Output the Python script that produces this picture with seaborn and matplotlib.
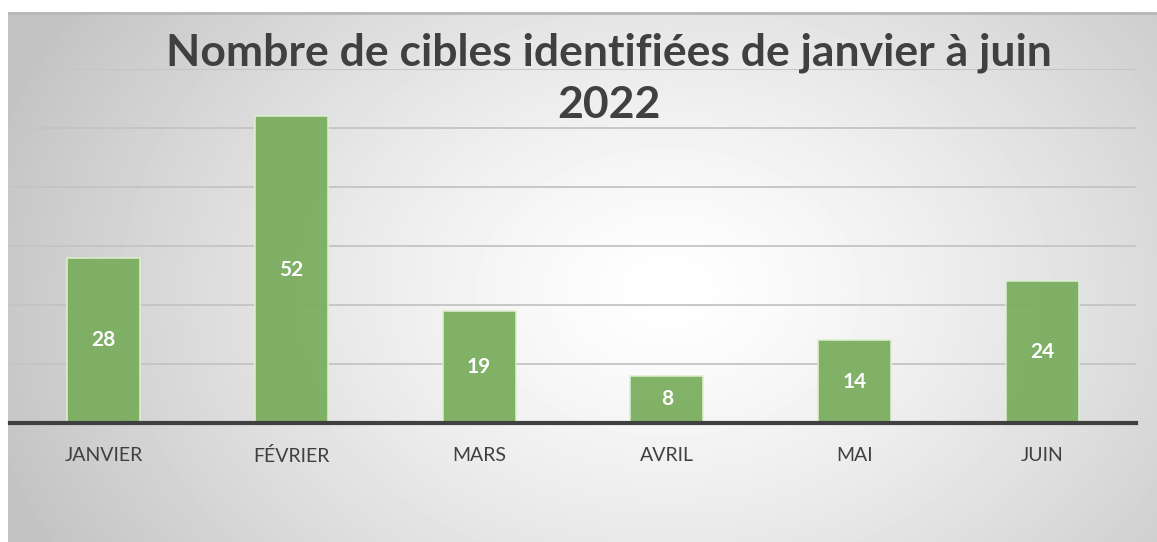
import numpy as np
import pandas as pd
import matplotlib
matplotlib.use("Agg")
import matplotlib.pyplot as plt
import seaborn as sns

# data
months = ["JANVIER", "FÉVRIER", "MARS", "AVRIL", "MAI", "JUIN"]
counts = [28, 52, 19, 8, 14, 24]
title = "Nombre de cibles identifiées de janvier à juin\n2022"

df = pd.DataFrame({"Mois": months, "Cibles": counts})

sns.set_style("white")
plt.rcParams["font.family"] = ["Lato", "DejaVu Sans"]

fig = plt.figure(figsize=(11.57, 5.42), dpi=100)
fig.patch.set_facecolor("white")

# radial gradient background of the chart area
bg = fig.add_axes([8 / 1157, 0, 1 - 8 / 1157, 1 - 12 / 542])
yy, xx = np.mgrid[0:530, 0:1149]
cx, cy = 660, 280
d = np.sqrt(((xx - cx) / 720) ** 2 + ((yy - cy) / 540) ** 2)
d = np.clip(d, 0, 1)
img = 1.0 - 0.24 * d ** 1.3
bg.imshow(img, cmap="gray", vmin=0, vmax=1, aspect="auto", interpolation="bilinear")
bg.axis("off")
bg.plot([0, 1148], [0, 0], color="#b8b8b8", lw=2)

ax = fig.add_axes([10 / 1157, 1 - 423 / 542, 1126 / 1157, (423 - 69) / 542])
ax.set_facecolor("none")
sns.barplot(data=df, x="Mois", y="Cibles", color="#77bb52", width=0.39,
            edgecolor="#dcefcf", linewidth=1.2, alpha=0.95, ax=ax, zorder=3)

ax.set_ylim(0, 60)
ax.set_xlim(-0.5, 5.5)
ax.set_yticks(np.arange(10, 61, 10))
ax.yaxis.grid(True, color="#c4c4c4", lw=1.3, zorder=0)
ax.set_axisbelow(True)
ax.tick_params(axis="y", left=False, labelleft=False)
ax.tick_params(axis="x", bottom=False, labelsize=14, labelcolor="#404040", pad=14)
ax.set_xlabel("")
ax.set_ylabel("")
for s in ["top", "right", "left"]:
    ax.spines[s].set_visible(False)
ax.spines["bottom"].set_color("#404040")
ax.spines["bottom"].set_linewidth(3)
ax.spines["bottom"].set_zorder(5)

for c in ax.containers:
    ax.bar_label(c, labels=[str(v) for v in counts], label_type="center",
                 color="white", fontsize=15, fontweight="bold", zorder=6)

fig.text(0.526, 0.855, title, ha="center", va="center", fontsize=32,
         fontweight="bold", color="#404040", linespacing=1.38)

fig.savefig("out.png", dpi=100)
